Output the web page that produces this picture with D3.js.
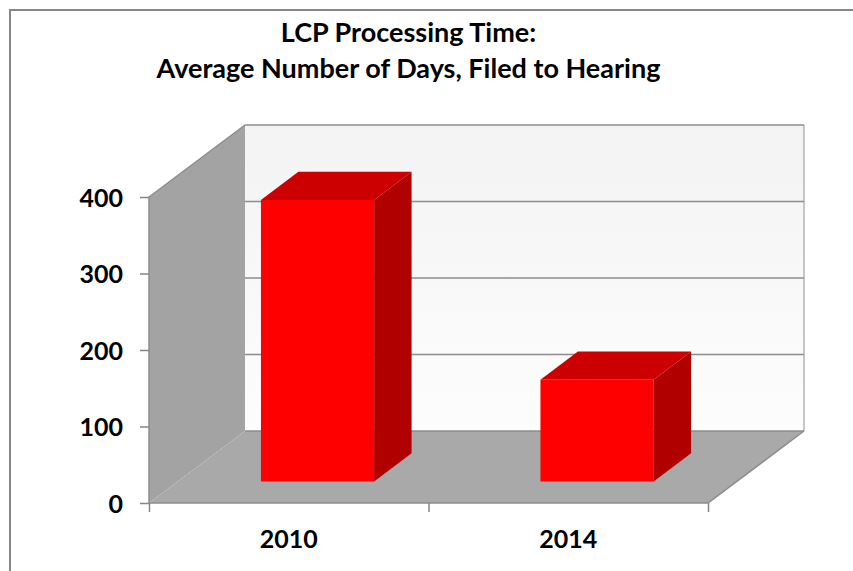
<!DOCTYPE html>
<html>
<head>
<meta charset="utf-8">
<script src="https://cdn.jsdelivr.net/npm/d3@7"></script>
<style>
body { margin: 0; background: #fff; }
text { font-family: Lato, "Open Sans", sans-serif; font-weight: 700; fill: #000; }
</style>
</head>
<body>
<div id="wrapper"></div>
<script>
const categories = ["2010", "2014"];
const values = [368, 133];
const yTicks = [0, 100, 200, 300, 400];
const titleLines = ["LCP Processing Time:", "Average Number of Days, Filed to Hearing"];

const width = 853, height = 571;
const svg = d3.select("#wrapper").append("svg")
    .attr("width", width)
    .attr("height", height)
    .style("display", "block");

// 3D look: depth 0 is the front plane, depth 1 the back wall
const depthX = 96, depthY = -72;
const barDepth = [0.30, 0.69];

const xScale = d3.scaleBand().domain(categories).range([149, 708]).paddingInner(0.595).paddingOuter(0.2975);
const yScale = d3.scaleLinear().domain([0, 400]).range([503, 197]);

const project = (x, y, z) => [x + z * depthX, y + z * depthY];
const poly = (pts) => "M" + pts.map(p => p.join(",")).join("L") + "Z";
const open = (pts) => "M" + pts.map(p => p.join(",")).join("L");

const defs = svg.append("defs");
const wallGrad = defs.append("linearGradient").attr("id", "wall").attr("x1", 0).attr("x2", 0).attr("y1", 0).attr("y2", 1);
wallGrad.append("stop").attr("offset", 0).attr("stop-color", "#f3f3f3");
wallGrad.append("stop").attr("offset", 1).attr("stop-color", "#fdfdfd");

// outer frame, runs off the right and bottom of the picture
svg.append("rect")
    .attr("x", 10).attr("y", 10)
    .attr("width", 860).attr("height", 580)
    .attr("fill", "#fff").attr("stroke", "#868686").attr("stroke-width", 2);

const x0 = xScale.range()[0], x1 = xScale.range()[1];
const yTop = yScale(400), yBot = yScale(0);

// back wall
svg.append("path")
    .attr("d", poly([project(x0, yTop, 1), project(x1, yTop, 1), project(x1, yBot, 1), project(x0, yBot, 1)]))
    .attr("fill", "url(#wall)");
svg.append("path")
    .attr("d", open([project(x1, yTop, 1), project(x1, yBot, 1)]))
    .attr("stroke", "#b5b5b5").attr("stroke-width", 1.5);

// side wall
svg.append("path")
    .attr("d", poly([project(x0, yTop, 0), project(x0, yTop, 1), project(x0, yBot, 1), project(x0, yBot, 0)]))
    .attr("fill", "#a3a3a3");

// floor
svg.append("path")
    .attr("d", poly([project(x0, yBot, 0), project(x0, yBot, 1), project(x1, yBot, 1), project(x1, yBot, 0)]))
    .attr("fill", "#a9a9a9");

// gridlines on the wall
svg.selectAll(".grid").data(yTicks).join("line")
    .attr("class", "grid")
    .attr("x1", project(x0, 0, 1)[0]).attr("x2", project(x1, 0, 1)[0])
    .attr("y1", d => project(0, yScale(d), 1)[1]).attr("y2", d => project(0, yScale(d), 1)[1])
    .attr("stroke", "#8c8c8c").attr("stroke-width", 1.5);

// outline of side wall and floor
svg.append("path")
    .attr("d", open([project(x0, yBot, 0), project(x0, yTop, 0), project(x0, yTop, 1)]))
    .attr("fill", "none").attr("stroke", "#8c8c8c").attr("stroke-width", 1.5);
svg.append("path")
    .attr("d", open([project(x0, yBot, 0), project(x1, yBot, 0), project(x1, yBot, 1)]))
    .attr("fill", "none").attr("stroke", "#8c8c8c").attr("stroke-width", 1.5);

// bars
const bars = svg.selectAll(".bar").data(categories.map((c, i) => ({ c, v: values[i] }))).join("g").attr("class", "bar");
const [zf, zb] = barDepth;
const bx0 = d => xScale(d.c), bx1 = d => xScale(d.c) + xScale.bandwidth();
const yb = yScale(0), yv = d => yScale(d.v);

bars.append("path") // side
    .attr("d", d => poly([project(bx1(d), yv(d), zf), project(bx1(d), yv(d), zb), project(bx1(d), yb, zb), project(bx1(d), yb, zf)]))
    .attr("fill", "#b00000");
bars.append("path") // top
    .attr("d", d => poly([project(bx0(d), yv(d), zf), project(bx0(d), yv(d), zb), project(bx1(d), yv(d), zb), project(bx1(d), yv(d), zf)]))
    .attr("fill", "#cc0000");
bars.append("path") // front
    .attr("d", d => poly([project(bx0(d), yv(d), zf), project(bx1(d), yv(d), zf), project(bx1(d), yb, zf), project(bx0(d), yb, zf)]))
    .attr("fill", "#ff0000");

// axes
const yAxis = d3.axisLeft(yScale).tickValues(yTicks).tickSize(9).tickPadding(17);
const yG = svg.append("g").attr("transform", `translate(${x0},0)`).call(yAxis);
const xTickScale = d3.scaleLinear().domain([0, categories.length]).range([x0, x1]);
const xAxis = d3.axisBottom(xTickScale).tickValues(d3.range(categories.length + 1)).tickSize(9).tickFormat("");
const xG = svg.append("g").attr("transform", `translate(0,${yBot})`).call(xAxis);
[yG, xG].forEach(g => {
    g.select(".domain").remove();
    g.selectAll("line").attr("stroke", "#868686").attr("stroke-width", 1.5);
});
yG.selectAll("text").style("font-size", "25px").attr("y", 1).attr("fill", "#000");

svg.selectAll(".cat").data(categories).join("text")
    .attr("class", "cat")
    .attr("x", d => xTickScale(categories.indexOf(d) + 0.5))
    .attr("y", 548)
    .attr("text-anchor", "middle")
    .style("font-size", "25px")
    .text(d => d);

// title
svg.selectAll(".title").data(titleLines).join("text")
    .attr("class", "title")
    .attr("x", 408.5)
    .attr("y", (d, i) => 42 + i * 35.5)
    .attr("text-anchor", "middle")
    .style("font-size", "27px")
    .text(d => d);
</script>
</body>
</html>
